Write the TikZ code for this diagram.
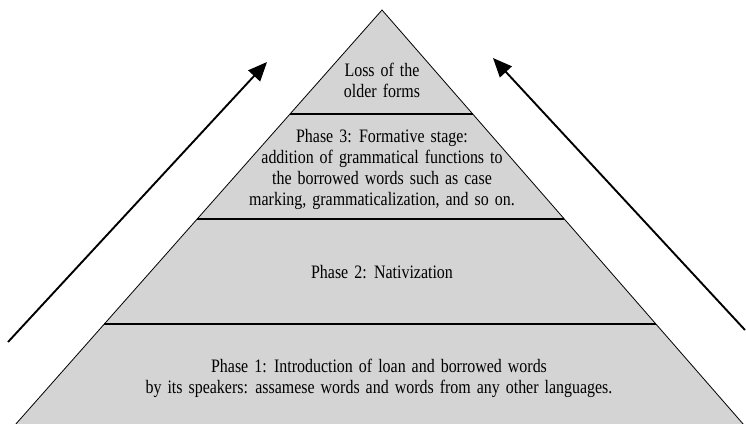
\documentclass[tikz,border=0pt]{standalone}
\usepackage{fontspec}
\setmainfont{Liberation Serif}[FakeStretch=0.84]
\usetikzlibrary{arrows.meta,calc}
\definecolor{pyrgray}{RGB}{212,212,212}
\newcommand{\pyrlblfont}{\fontsize{19}{21}\selectfont\spaceskip=6pt plus 1pt\relax}
\begin{document}
\begin{tikzpicture}[x=1pt,y=-1pt,
  pyr/.style={fill=pyrgray, draw=black, line width=0.8pt, line join=miter},
  divider/.style={line width=1.8pt},
  lbl/.style={font=\pyrlblfont, align=center, inner sep=0pt, anchor=base},
  flow/.style={line width=1.9pt, -{Triangle[length=19pt,width=16pt]}}]
\useasboundingbox (0,0) rectangle (746,423);
% pyramid corners
\coordinate (apex) at (382,10);
\coordinate (bl) at (15,425);
\coordinate (br) at (744,425);
\draw[pyr] (apex) -- (br) -- (bl) -- cycle;
% dividers
\coordinate (d1l) at ($(apex)!0.2506!(bl)$);
\coordinate (d1r) at ($(apex)!0.2506!(br)$);
\coordinate (d2l) at ($(apex)!0.5036!(bl)$);
\coordinate (d2r) at ($(apex)!0.5036!(br)$);
\coordinate (d3l) at ($(apex)!0.7566!(bl)$);
\coordinate (d3r) at ($(apex)!0.7566!(br)$);
\draw[divider] (d1l) -- (d1r);
\draw[divider] (d2l) -- (d2r);
\draw[divider] (d3l) -- (d3r);
% labels (anchor = baseline of last line)
\node[lbl] (loss) at (382,97) {Loss of the\\older forms};
\node[lbl] (p3) at (382,205) {Phase 3: Formative stage:\\addition of grammatical functions to\\the borrowed words such as case\\marking, grammaticalization, and so on.};
\node[lbl] (p2) at (382,278) {Phase 2: Nativization};
\node[lbl] (p1) at (379,393) {Phase 1: Introduction of loan and borrowed words\\by its speakers: assamese words and words from any other languages.};
% arrows
\coordinate (a1s) at (8,342);
\coordinate (a1e) at (267,62);
\coordinate (a2s) at (745,330);
\coordinate (a2e) at (493,58);
\draw[flow] (a1s) -- (a1e);
\draw[flow] (a2s) -- (a2e);
\end{tikzpicture}
\end{document}
